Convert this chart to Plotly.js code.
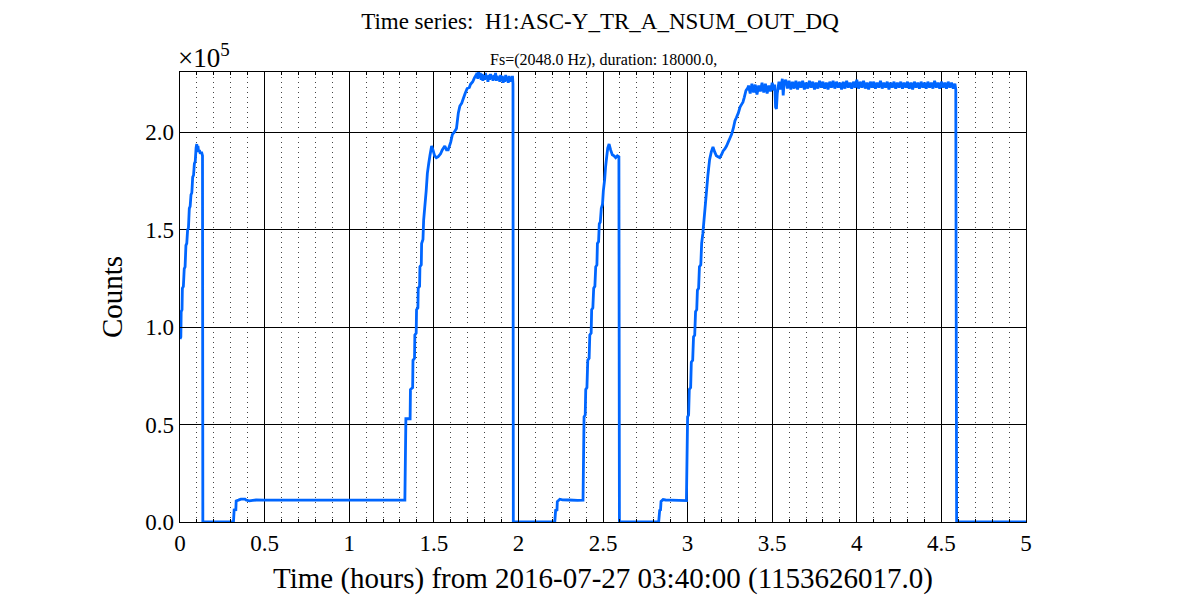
<!DOCTYPE html>
<html>
<head>
<meta charset="utf-8">
<script src="https://cdn.plot.ly/plotly-3.0.1.min.js"></script>
<style>
  html, body { margin: 0; padding: 0; background: #ffffff; }
  #chart { width: 1200px; height: 600px; }
</style>
</head>
<body>
<div id="chart"></div>
<script>
// Time in hours from 2016-07-27 03:40:00, counts in units of 1e5
const seg1Hours = [0, 0.005, 0.007, 0.012, 0.014, 0.02, 0.025, 0.03, 0.035, 0.04, 0.045, 0.05, 0.055, 0.06, 0.065, 0.07, 0.075, 0.08, 0.085, 0.09, 0.095, 0.099, 0.103, 0.106, 0.11, 0.115, 0.12, 0.127, 0.133];
const seg1Counts = [0.94, 0.95, 1.08, 1.09, 1.20, 1.21, 1.30, 1.31, 1.42, 1.43, 1.50, 1.51, 1.61, 1.62, 1.68, 1.69, 1.77, 1.78, 1.84, 1.85, 1.92, 1.94, 1.91, 1.93, 1.90, 1.91, 1.89, 1.90, 1.88];

const seg2Hours = [0.135, 0.2, 0.316, 0.32, 0.33, 0.332, 0.345, 0.36, 0.385, 0.39, 0.41, 0.43, 0.45, 0.5, 0.7, 1.0, 1.2, 1.329];
const seg2Counts = [0, 0, 0, 0.062, 0.063, 0.108, 0.112, 0.117, 0.117, 0.113, 0.109, 0.111, 0.113, 0.112, 0.112, 0.112, 0.112, 0.112];

const seg3Hours = [1.335, 1.36, 1.362, 1.375, 1.377, 1.386, 1.388, 1.396, 1.398, 1.406, 1.408, 1.416, 1.418, 1.426, 1.428, 1.436, 1.44, 1.447, 1.455, 1.462, 1.47, 1.477, 1.487, 1.495, 1.505, 1.515, 1.526, 1.54, 1.55, 1.565, 1.575, 1.585, 1.6, 1.61, 1.62, 1.634, 1.645, 1.654, 1.665, 1.673, 1.685, 1.697, 1.71, 1.717, 1.73, 1.74, 1.752];
const seg3Counts = [0.53, 0.53, 0.68, 0.69, 0.83, 0.84, 0.96, 0.97, 1.09, 1.10, 1.20, 1.21, 1.31, 1.32, 1.43, 1.45, 1.55, 1.62, 1.70, 1.79, 1.84, 1.88, 1.93, 1.91, 1.88, 1.87, 1.875, 1.89, 1.91, 1.93, 1.91, 1.91, 1.95, 1.99, 2.00, 2.02, 2.10, 2.135, 2.15, 2.17, 2.20, 2.225, 2.23, 2.247, 2.26, 2.28, 2.298];

const seg4Hours = [1.755, 1.76, 1.765, 1.77, 1.775, 1.78, 1.785, 1.79, 1.795, 1.80, 1.805, 1.81, 1.815, 1.82, 1.825, 1.83, 1.835, 1.84, 1.845, 1.85, 1.855, 1.86, 1.865, 1.87, 1.875, 1.88, 1.885, 1.89, 1.895, 1.90, 1.905, 1.91, 1.915, 1.92, 1.925, 1.93, 1.935, 1.94, 1.945, 1.95, 1.955, 1.96, 1.965, 1.968];
const seg4Counts = [2.305, 2.275, 2.31, 2.28, 2.305, 2.27, 2.30, 2.265, 2.295, 2.27, 2.305, 2.275, 2.29, 2.26, 2.295, 2.27, 2.30, 2.275, 2.29, 2.265, 2.295, 2.27, 2.305, 2.265, 2.29, 2.27, 2.285, 2.26, 2.295, 2.265, 2.29, 2.255, 2.285, 2.26, 2.295, 2.265, 2.285, 2.255, 2.29, 2.26, 2.285, 2.265, 2.29, 2.25];

const seg5Hours = [1.97, 2.1, 2.215, 2.22, 2.228, 2.23, 2.245, 2.26, 2.3, 2.35, 2.382, 2.388, 2.395, 2.398, 2.405, 2.41, 2.418, 2.422, 2.43, 2.433, 2.44, 2.445, 2.452, 2.457, 2.464, 2.467, 2.474, 2.478, 2.484, 2.49, 2.497, 2.502, 2.51, 2.515, 2.52, 2.528, 2.536, 2.545, 2.555, 2.565, 2.575, 2.585, 2.594];
const seg5Counts = [0, 0, 0, 0.060, 0.062, 0.105, 0.117, 0.114, 0.113, 0.111, 0.112, 0.54, 0.55, 0.68, 0.69, 0.83, 0.84, 0.96, 0.97, 1.09, 1.10, 1.20, 1.21, 1.31, 1.32, 1.43, 1.44, 1.53, 1.54, 1.61, 1.63, 1.70, 1.76, 1.82, 1.86, 1.92, 1.94, 1.91, 1.885, 1.88, 1.87, 1.88, 1.875];

const seg6Hours = [2.597, 2.7, 2.829, 2.835, 2.84, 2.843, 2.855, 2.87, 2.9, 2.95, 2.993, 3.0, 3.006, 3.01, 3.018, 3.022, 3.03, 3.035, 3.042, 3.047, 3.054, 3.058, 3.065, 3.07, 3.078, 3.083, 3.09, 3.1, 3.111, 3.12, 3.13, 3.14, 3.15, 3.16, 3.17, 3.18, 3.19, 3.2, 3.21, 3.22, 3.23, 3.24, 3.25, 3.26, 3.27, 3.28, 3.288, 3.3, 3.31, 3.32, 3.327, 3.335, 3.345, 3.357];
const seg6Counts = [0, 0, 0, 0.060, 0.062, 0.106, 0.115, 0.113, 0.112, 0.111, 0.110, 0.54, 0.55, 0.68, 0.69, 0.82, 0.83, 0.95, 0.96, 1.08, 1.09, 1.19, 1.20, 1.31, 1.32, 1.43, 1.48, 1.58, 1.69, 1.78, 1.86, 1.90, 1.925, 1.90, 1.88, 1.875, 1.87, 1.885, 1.905, 1.915, 1.93, 1.95, 1.97, 1.99, 2.02, 2.06, 2.075, 2.10, 2.13, 2.145, 2.155, 2.18, 2.215, 2.23];

const seg7Hours = [3.36, 3.37, 3.38, 3.39, 3.40, 3.41, 3.42, 3.43, 3.44, 3.45, 3.46, 3.47, 3.48, 3.49, 3.50, 3.51, 3.515, 3.52, 3.525, 3.53, 3.54, 3.55, 3.56, 3.565, 3.57, 3.58, 3.59, 3.60, 3.61, 3.62, 3.63, 3.64, 3.65, 3.66, 3.67, 3.68, 3.69, 3.70, 3.71, 3.72, 3.73, 3.74, 3.75, 3.76, 3.77, 3.78, 3.79, 3.80, 3.81, 3.82, 3.83, 3.84, 3.85, 3.86, 3.87, 3.88, 3.89, 3.90, 3.91, 3.92, 3.93, 3.94, 3.95, 3.96, 3.97, 3.98, 3.99, 4.00, 4.01, 4.02, 4.03, 4.04, 4.05, 4.06, 4.07, 4.08, 4.09, 4.10, 4.11, 4.12, 4.13, 4.14, 4.15, 4.16, 4.17, 4.18, 4.19, 4.20, 4.21, 4.22, 4.23, 4.24, 4.25, 4.26, 4.27, 4.28, 4.29, 4.30, 4.31, 4.32, 4.33, 4.34, 4.35, 4.36, 4.37, 4.38, 4.39, 4.40, 4.41, 4.42, 4.43, 4.44, 4.45, 4.46, 4.47, 4.48, 4.49, 4.50, 4.51, 4.52, 4.53, 4.54, 4.55, 4.56, 4.57, 4.58, 4.585];
const seg7Counts = [2.24, 2.20, 2.25, 2.205, 2.245, 2.195, 2.24, 2.21, 2.255, 2.205, 2.25, 2.20, 2.24, 2.21, 2.255, 2.215, 2.245, 2.13, 2.12, 2.20, 2.26, 2.22, 2.275, 2.19, 2.25, 2.27, 2.225, 2.265, 2.22, 2.26, 2.225, 2.265, 2.22, 2.26, 2.23, 2.265, 2.22, 2.255, 2.225, 2.265, 2.23, 2.26, 2.22, 2.255, 2.225, 2.265, 2.23, 2.26, 2.225, 2.255, 2.22, 2.26, 2.23, 2.265, 2.225, 2.26, 2.23, 2.255, 2.22, 2.26, 2.225, 2.265, 2.23, 2.255, 2.225, 2.26, 2.23, 2.27, 2.225, 2.26, 2.23, 2.265, 2.225, 2.255, 2.22, 2.26, 2.23, 2.26, 2.225, 2.255, 2.23, 2.265, 2.225, 2.255, 2.23, 2.26, 2.22, 2.255, 2.23, 2.26, 2.225, 2.255, 2.23, 2.26, 2.225, 2.255, 2.23, 2.26, 2.225, 2.255, 2.22, 2.26, 2.23, 2.255, 2.225, 2.26, 2.23, 2.255, 2.225, 2.26, 2.23, 2.255, 2.225, 2.265, 2.23, 2.255, 2.225, 2.26, 2.23, 2.255, 2.225, 2.26, 2.23, 2.255, 2.225, 2.25, 2.22];

const seg8Hours = [4.59, 4.8, 5.0];
const seg8Counts = [0, 0, 0];

const xTickVals = [0, 0.5, 1, 1.5, 2, 2.5, 3, 3.5, 4, 4.5, 5];
const xTickText = ['0', '0.5', '1', '1.5', '2', '2.5', '3', '3.5', '4', '4.5', '5'];
const yTickVals = [0, 0.5, 1.0, 1.5, 2.0];
const yTickText = ['0.0', '0.5', '1.0', '1.5', '2.0'];

const hours = [].concat(seg1Hours, seg2Hours, seg3Hours, seg4Hours, seg5Hours, seg6Hours, seg7Hours, seg8Hours);
const counts = [].concat(seg1Counts, seg2Counts, seg3Counts, seg4Counts, seg5Counts, seg6Counts, seg7Counts, seg8Counts);

const serif = 'Liberation Serif, DejaVu Serif, serif';

const trace = {
  x: hours,
  y: counts,
  type: 'scatter',
  mode: 'lines',
  line: { color: '#0066ff', width: 2.8, simplify: false },
  hoverinfo: 'skip'
};

const layout = {
  width: 1200,
  height: 600,
  paper_bgcolor: '#ffffff',
  plot_bgcolor: '#ffffff',
  margin: { l: 180, r: 174, t: 72, b: 78 },
  showlegend: false,
  font: { family: serif, color: '#000000' },
  title: {
    text: 'Time series:  H1:ASC-Y_TR_A_NSUM_OUT_DQ',
    font: { family: serif, size: 23, color: '#000' },
    x: 0.5, xanchor: 'center',
    y: 1 - 21 / 600, yanchor: 'middle', yref: 'container'
  },
  xaxis: {
    range: [0, 5],
    tickvals: xTickVals,
    ticktext: xTickText,
    ticks: 'inside',
    ticklen: 6,
    tickcolor: '#000',
    showline: true,
    linecolor: '#000',
    linewidth: 1.3,
    mirror: 'ticks',
    showgrid: true,
    gridcolor: '#000',
    gridwidth: 1,
    zeroline: false,
    tickfont: { family: serif, size: 23, color: '#000' },
    title: { text: 'Time (hours) from 2016-07-27 03:40:00 (1153626017.0)', font: { family: serif, size: 29, color: '#000' }, standoff: 12 },
    minor: { dtick: 0.1, tick0: 0, showgrid: true, gridcolor: '#444', gridwidth: 1, griddash: '1px,4px', ticks: 'inside', ticklen: 3, tickcolor: '#000' }
  },
  yaxis: {
    range: [0, 2.31],
    tickvals: yTickVals,
    ticktext: yTickText,
    ticks: 'inside',
    ticklen: 6,
    tickcolor: '#000',
    showline: true,
    linecolor: '#000',
    linewidth: 1.3,
    mirror: 'ticks',
    showgrid: true,
    gridcolor: '#000',
    gridwidth: 1,
    zeroline: false,
    tickfont: { family: serif, size: 23, color: '#000' },
    title: { text: 'Counts', font: { family: serif, size: 29, color: '#000' }, standoff: 14 }
  },
  annotations: [
    {
      text: 'Fs=(2048.0 Hz), duration: 18000.0,',
      xref: 'paper', yref: 'paper', x: 0.5, y: 1, xanchor: 'center', yanchor: 'bottom', yshift: 1,
      showarrow: false, font: { family: serif, size: 16, color: '#000' }
    },
    {
      text: '×10<sup>5</sup>',
      xref: 'paper', yref: 'paper', x: 0, y: 1, xanchor: 'left', yanchor: 'bottom', xshift: -4, yshift: -3,
      showarrow: false, font: { family: serif, size: 27, color: '#000' }
    }
  ]
};

Plotly.newPlot('chart', [trace], layout, { displayModeBar: false, staticPlot: true });
</script>
</body>
</html>
